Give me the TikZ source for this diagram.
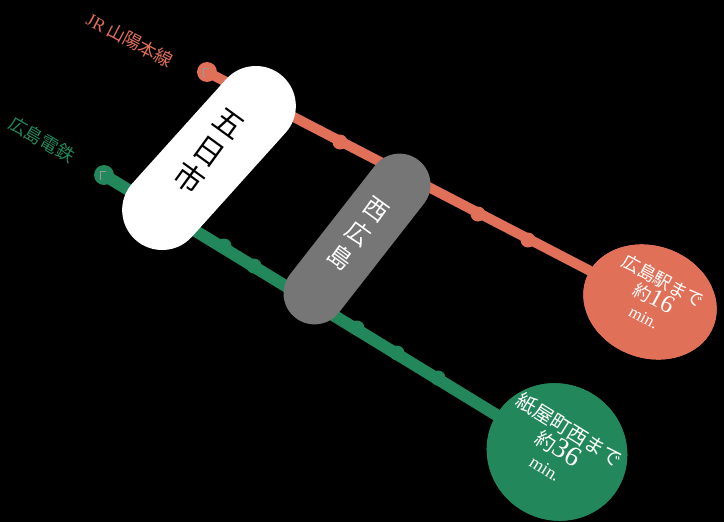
\documentclass[tikz,border=0pt]{standalone}
\usepackage{fontspec}
\setmainfont{Liberation Serif}
\newfontfamily\jp{Noto Sans CJK JP}
\usetikzlibrary{shapes.geometric}
\definecolor{jro}{HTML}{E07058}
\definecolor{hdg}{HTML}{22875A}
\definecolor{pillg}{HTML}{767676}
\begin{document}
\begin{tikzpicture}[x=1pt,y=-1pt,
  startcap/.style={circle,minimum size=20pt,inner sep=0pt},
  sq/.style={draw=black!40,line width=0.6pt,minimum size=8pt,inner sep=0pt},
  stopdot/.style={circle,minimum size=15pt,inner sep=0pt},
  pill/.style={rounded corners=#1,inner sep=0pt},
  dest/.style={ellipse,inner sep=0pt}]
\fill[black] (0,0) rectangle (724,522);
\useasboundingbox (0,0) rectangle (724,522);
% orange line
\node[startcap,fill=jro] (os) at (207,72) {};
\node[sq,fill=jro] (osq) at (207,72) {};
\node[dest,fill=jro,minimum width=136pt,minimum height=112pt,rotate=-20] (oe) at (650,302) {};
\draw[jro,line width=10pt] (os.center) -- (oe.center);
\foreach \n/\x/\y in {o1/340/142,o2/478/214,o3/528/240}
  \node[stopdot,fill=jro] (\n) at (\x,\y) {};
\node[dest,fill=jro,minimum width=136pt,minimum height=112pt,rotate=-20] (oe2) at (650,302) {};
\node[text=white,align=center,rotate=-28,font=\jp\fontsize{18}{20}\selectfont] (ot) at (654,298) {広島駅まで\\約{\rmfamily\fontsize{25}{22}\selectfont 16}\\{\rmfamily\fontsize{17}{16}\selectfont min.}};
% green line
\node[startcap,fill=hdg] (gs) at (104,175) {};
\node[sq,fill=hdg] (gsq) at (104,175) {};
\node[dest,fill=hdg,minimum width=142pt,minimum height=136pt,rotate=-30] (ge) at (557,452) {};
\draw[hdg,line width=12pt] (gs.center) -- (ge.center);
\foreach \n/\x/\y in {g1/224/246,g2/254/266,g3/357/328,g4/397/353,g5/438/378}
  \node[stopdot,fill=hdg] (\n) at (\x,\y) {};
\node[dest,fill=hdg,minimum width=142pt,minimum height=136pt,rotate=-30] (ge2) at (557,452) {};
\node[text=white,align=center,rotate=-32,font=\jp\fontsize{20}{22}\selectfont] (gt) at (558,448) {紙屋町西まで\\約{\rmfamily\fontsize{28}{24}\selectfont 36}\\{\rmfamily\fontsize{18}{17}\selectfont min.}};
% pills
\node[pill=40pt,fill=white,minimum width=80pt,minimum height=220pt,rotate=-42] (p1) at (209,158) {};
\node[rotate=-36,align=center,font=\jp\fontsize{30}{34}\selectfont] (p1t) at (208,152) {五\\日\\市};
\node[pill=31pt,fill=pillg,minimum width=62pt,minimum height=200pt,rotate=-38] (p2) at (357,239) {};
\node[rotate=-36,align=center,font=\jp\fontsize{24}{30}\selectfont,text=white] (p2t) at (358,234) {西\\広\\島};
% line labels
\node[text=jro,rotate=-28,font=\jp\fontsize{18}{18}\selectfont] (ol) at (130,40) {{\rmfamily JR} 山陽本線};
\node[text=hdg,rotate=-30,font=\jp\fontsize{18}{18}\selectfont] (gl) at (42,140) {広島電鉄};
\end{tikzpicture}
\end{document}
